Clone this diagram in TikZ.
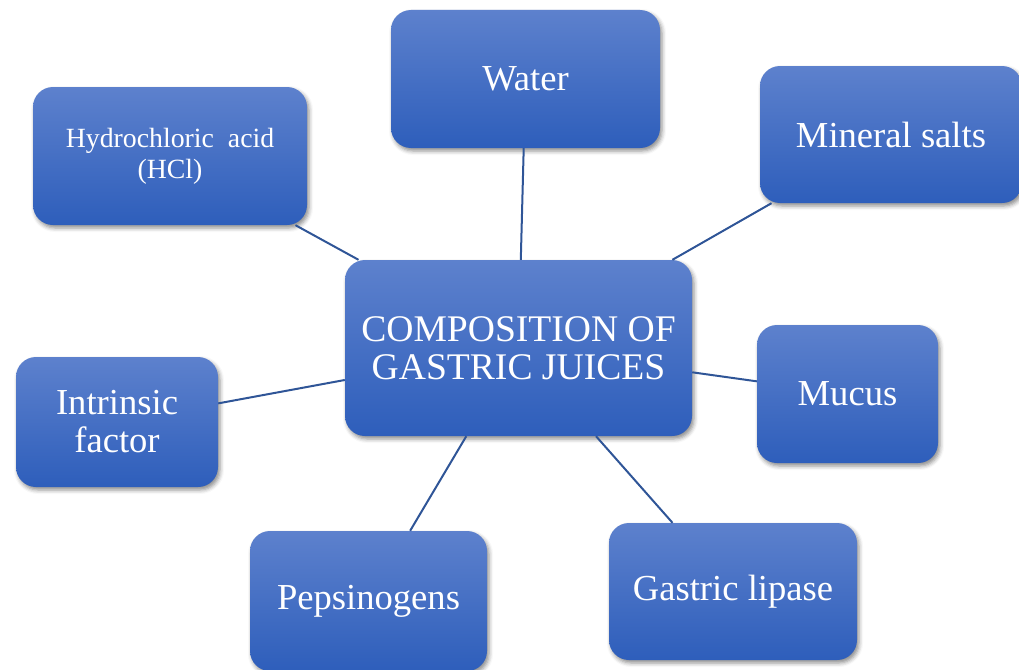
\documentclass[tikz,border=0pt]{standalone}
\usepackage{fontspec}
\setmainfont{Liberation Serif}
\usetikzlibrary{shadows.blur}
\definecolor{boxtop}{HTML}{5D81CD}
\definecolor{boxbot}{HTML}{2E5EBB}
\definecolor{linkc}{HTML}{2F5597}
\tikzset{
  topic/.style={rounded corners=20pt, top color=boxtop, bottom color=boxbot, draw=none,
    text=white, align=center, inner sep=2pt,
    font=\fontsize{36.6}{38}\selectfont,
    blur shadow={shadow xshift=2pt, shadow yshift=-3pt, shadow blur radius=4pt, shadow opacity=45}},
  link/.style={draw=linkc, line width=2pt}
}
\begin{document}
\begin{tikzpicture}[x=1pt,y=-1pt]
\useasboundingbox (0,0) rectangle (1019,669);
\node[topic, minimum width=347pt, minimum height=176pt, font=\fontsize{37.6}{38}\selectfont] (c) at (518.5,348) {COMPOSITION OF\\GASTRIC JUICES};
\node[topic, minimum width=269pt, minimum height=138pt] (w) at (525.5,79) {Water};
\node[topic, minimum width=274pt, minimum height=138pt, font=\fontsize{27.8}{31}\selectfont] (h) at (170,156) {Hydrochloric\hspace{0.5em}acid\\(HCl)};
\node[topic, minimum width=262pt, minimum height=137pt] (m) at (891,134.5) {Mineral salts};
\node[topic, minimum width=202pt, minimum height=130pt] (i) at (117,422) {Intrinsic\\factor};
\node[topic, minimum width=181pt, minimum height=138pt] (u) at (847.5,394) {Mucus};
\node[topic, minimum width=237pt, minimum height=140pt] (p) at (368.5,601) {Pepsinogens};
\node[topic, minimum width=248pt, minimum height=137pt] (g) at (733,591.5) {Gastric lipase};
\foreach \n in {w,h,m,i,u,p,g}{\draw[link] (c) -- (\n);}
\end{tikzpicture}
\end{document}
